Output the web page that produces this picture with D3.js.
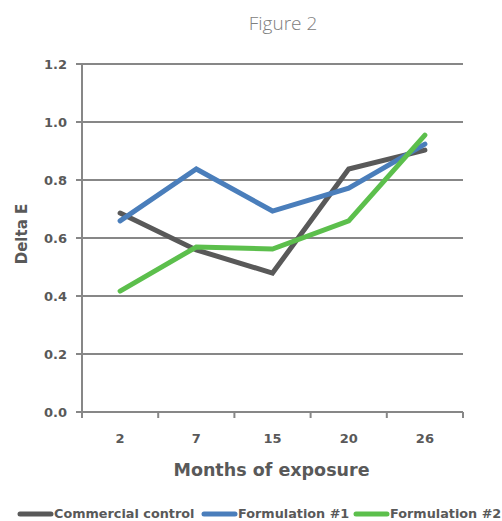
<!DOCTYPE html>
<html>
<head>
<meta charset="utf-8">
<script src="https://cdn.jsdelivr.net/npm/d3@7"></script>
<style>
  body { margin: 0; background: #fff; }
  svg { display: block; }
</style>
</head>
<body>
<svg id="chart" width="502" height="521"></svg>
<script>
// months on the x axis
var months = ['2', '7', '15', '20', '26'];

// delta E values
var commercialControl = [0.686, 0.559, 0.479, 0.838, 0.903];
var formulation1 = [0.659, 0.838, 0.693, 0.772, 0.924];
var formulation2 = [0.417, 0.569, 0.562, 0.659, 0.955];

var seriesNames = ['Commercial control', 'Formulation #1', 'Formulation #2'];
var seriesColors = ['#595959', '#4a7ebb', '#5cbf4c'];
var yTicks = [0, 0.2, 0.4, 0.6, 0.8, 1.0, 1.2];

var series = [commercialControl, formulation1, formulation2].map(function(vals, i) {
  return { name: seriesNames[i], color: seriesColors[i], values: vals };
});

var svg = d3.select('#chart');
var margin = { left: 82, right: 39, top: 64, bottom: 109 };
var width = 502 - margin.left - margin.right;
var height = 521 - margin.top - margin.bottom;
var textColor = '#595959';
var gridColor = '#878787';
var font = '"DejaVu Sans", Verdana, sans-serif';

var x = d3.scaleBand().domain(months).range([0, width]);
var y = d3.scaleLinear().domain([0, 1.2]).range([height, 0]);

var g = svg.append('g')
  .attr('transform', 'translate(' + margin.left + ',' + margin.top + ')');

// title
svg.append('text')
  .attr('x', 283).attr('y', 30)
  .attr('text-anchor', 'middle')
  .style('font-family', '"Open Sans", sans-serif')
  .style('font-weight', 300)
  .style('font-size', '19px')
  .style('fill', '#808080')
  .text('Figure 2');

// horizontal gridlines
g.selectAll('line.grid')
  .data(yTicks)
  .enter().append('line')
  .attr('class', 'grid')
  .attr('x1', -6).attr('x2', width)
  .attr('y1', function(d) { return y(d); })
  .attr('y2', function(d) { return y(d); })
  .style('stroke', gridColor)
  .style('stroke-width', '2px');

// y axis line
g.append('line')
  .attr('x1', 0).attr('x2', 0)
  .attr('y1', 0).attr('y2', height)
  .style('stroke', gridColor)
  .style('stroke-width', '2px');

// x tick marks at the band edges
var edges = months.map(function(m) { return x(m); }).concat([width]);
g.selectAll('line.xtick')
  .data(edges)
  .enter().append('line')
  .attr('class', 'xtick')
  .attr('x1', function(d) { return d; })
  .attr('x2', function(d) { return d; })
  .attr('y1', height).attr('y2', height + 6)
  .style('stroke', gridColor)
  .style('stroke-width', '2px');

// y tick labels
g.selectAll('text.ylab')
  .data(yTicks)
  .enter().append('text')
  .attr('class', 'ylab')
  .attr('x', -15)
  .attr('y', function(d) { return y(d); })
  .attr('dy', '0.35em')
  .attr('text-anchor', 'end')
  .style('font-family', font)
  .style('font-weight', 'bold')
  .style('font-size', '13px')
  .style('fill', textColor)
  .text(function(d) { return d3.format('.1f')(d); });

// x tick labels
g.selectAll('text.xlab')
  .data(months)
  .enter().append('text')
  .attr('class', 'xlab')
  .attr('x', function(d) { return x(d) + x.bandwidth() / 2; })
  .attr('y', height + 31)
  .attr('text-anchor', 'middle')
  .style('font-family', font)
  .style('font-weight', 'bold')
  .style('font-size', '13px')
  .style('fill', textColor)
  .text(function(d) { return d; });

// axis titles
g.append('text')
  .attr('x', width / 2 - 1)
  .attr('y', height + 64)
  .attr('text-anchor', 'middle')
  .style('font-family', font)
  .style('font-weight', 'bold')
  .style('font-size', '17.5px')
  .style('fill', textColor)
  .text('Months of exposure');

svg.append('text')
  .attr('transform', 'translate(27,' + (margin.top + y(0.6) - 4) + ') rotate(-90)')
  .attr('text-anchor', 'middle')
  .style('font-family', font)
  .style('font-weight', 'bold')
  .style('font-size', '15px')
  .style('fill', textColor)
  .text('Delta E');

// series lines
var line = d3.line()
  .x(function(d, i) { return x(months[i]) + x.bandwidth() / 2; })
  .y(function(d) { return y(d); });

g.selectAll('path.series')
  .data(series)
  .enter().append('path')
  .attr('class', 'series')
  .attr('d', function(d) { return line(d.values); })
  .style('fill', 'none')
  .style('stroke', function(d) { return d.color; })
  .style('stroke-width', '5px')
  .style('stroke-linecap', 'round')
  .style('stroke-linejoin', 'miter');

// legend
var legendX = [20, 204, 356];
var legend = svg.selectAll('g.legend')
  .data(series)
  .enter().append('g')
  .attr('class', 'legend')
  .attr('transform', function(d, i) { return 'translate(' + legendX[i] + ',514)'; });

legend.append('line')
  .attr('x1', 0).attr('x2', 31)
  .attr('y1', 0).attr('y2', 0)
  .style('stroke', function(d) { return d.color; })
  .style('stroke-width', '5px')
  .style('stroke-linecap', 'round');

legend.append('text')
  .attr('x', 34)
  .attr('dy', '0.35em')
  .style('font-family', font)
  .style('font-weight', 'bold')
  .style('font-size', '12.8px')
  .style('fill', textColor)
  .text(function(d) { return d.name; });
</script>
</body>
</html>
